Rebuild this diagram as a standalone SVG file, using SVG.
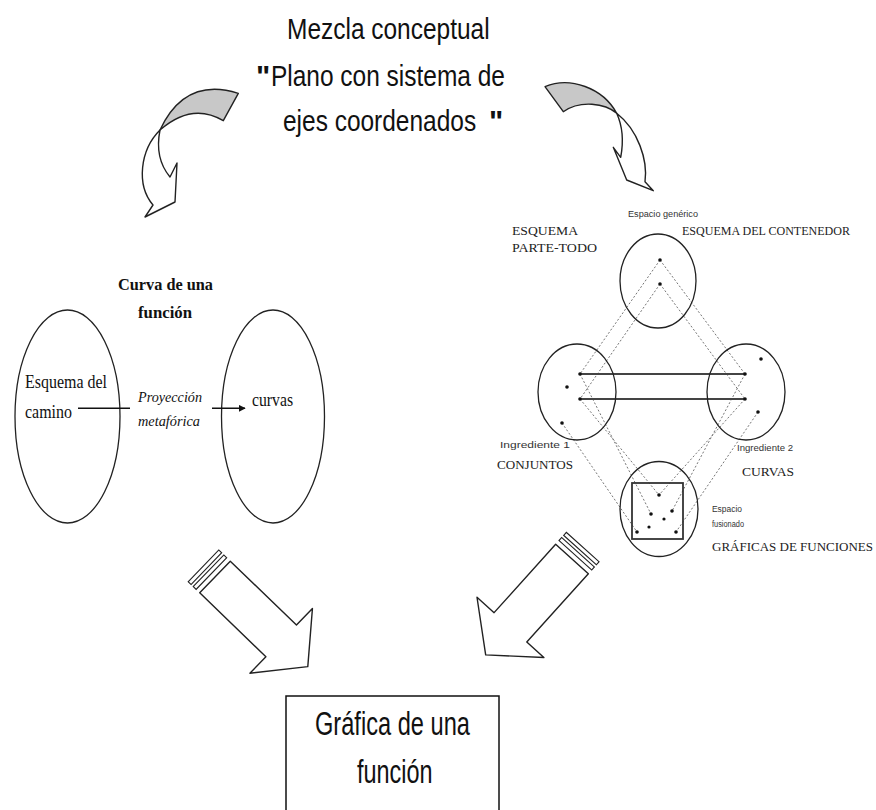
<svg xmlns="http://www.w3.org/2000/svg" width="876" height="810" viewBox="0 0 876 810">
<style>
.title{font-family:"Liberation Sans","DejaVu Sans",sans-serif;font-size:30px;fill:#111}
.q{font-family:"Liberation Sans","DejaVu Sans",sans-serif;font-size:30px;font-weight:bold;fill:#111}
.box{font-family:"Liberation Sans","DejaVu Sans",sans-serif;font-size:34px;fill:#111}
.serif{font-family:"Liberation Serif","DejaVu Serif",serif;fill:#111}
.caps{font-family:"Liberation Serif","DejaVu Serif",serif;font-size:13px;fill:#222}
.small{font-family:"Liberation Sans","DejaVu Sans",sans-serif;font-size:8.5px;fill:#333}
.ol{fill:none;stroke:#222;stroke-width:1.3}
.band{stroke:#222;stroke-width:1.4;stroke-linejoin:round}
.dash{stroke:#777;stroke-width:1;stroke-dasharray:2,2;fill:none}
.dot{fill:#111}
.hl{stroke:#444;stroke-width:2.2}
</style>
<defs>
<marker id="ah" viewBox="0 0 10 10" refX="9" refY="5" markerWidth="7" markerHeight="7" orient="auto" markerUnits="userSpaceOnUse">
<path d="M0,0 L10,5 L0,10 Z" fill="#111"/>
</marker>
<g id="bigArrow">
<polygon points="0,-22 92,-22 92,-45 129,0 92,45 92,22 0,22" fill="#fff" stroke="#222" stroke-width="1.4" stroke-linejoin="round"/>
<rect x="-16" y="-22" width="4" height="44" fill="#fff" stroke="#222" stroke-width="1.1"/>
<rect x="-9" y="-22" width="4" height="44" fill="#fff" stroke="#222" stroke-width="1.1"/>
</g>
</defs>
<rect width="876" height="810" fill="#fff"/>

<g id="title">
<text class="title" transform="translate(287,39) scale(0.816,1)">Mezcla conceptual</text>
<text class="q" x="256" y="86">"</text>
<text class="title" transform="translate(271,86) scale(0.816,1)">Plano con sistema de</text>
<text class="title" transform="translate(283,131) scale(0.816,1)">ejes coordenados</text>
<text class="q" x="489" y="131">"</text>
</g>

<g id="curved-arrow-left">
<path class="band" fill="#fff" d="M160,130 C140,150 136,185 153,205 L145,217 L175,202 L177,163 L170,177 C160,165 156,150 160,130 Z"/>
<path class="band" fill="#c8c8c8" d="M238.3,93.3 Q185,76.5 160,130 Q192,102 223.3,120.7 Z"/>
</g>

<g id="curved-arrow-right">
<path class="band" fill="#fff" d="M616.7,113.3 C638,130 648,160 645,181.7 L653.3,190.7 L626.7,180 L613.3,147.3 L620.7,157.3 C624,140 622,125 616.7,113.3 Z"/>
<path class="band" fill="#c8c8c8" d="M545,86.7 C570,76 603,88 616.7,113.3 C605,103 580,100 563.3,111.7 Z"/>
</g>

<g id="left-diagram">
<text class="serif" x="118" y="290" font-size="17" font-weight="bold" textLength="95" lengthAdjust="spacingAndGlyphs">Curva de una</text>
<text class="serif" x="138" y="318" font-size="17" font-weight="bold" textLength="54" lengthAdjust="spacingAndGlyphs">función</text>
<g id="ellipse-camino">
<ellipse class="ol" cx="67.5" cy="416.5" rx="52.5" ry="106.5"/>
<text class="serif" x="25" y="388" font-size="19" textLength="82" lengthAdjust="spacingAndGlyphs">Esquema del</text>
<text class="serif" x="25" y="418" font-size="19" textLength="47" lengthAdjust="spacingAndGlyphs">camino</text>
</g>
<g id="ellipse-curvas">
<ellipse class="ol" cx="273" cy="416.5" rx="51.5" ry="106.5"/>
<text class="serif" x="252" y="406" font-size="19" textLength="41" lengthAdjust="spacingAndGlyphs">curvas</text>
</g>
<text class="serif" x="138" y="402" font-size="15" font-style="italic" textLength="64" lengthAdjust="spacingAndGlyphs">Proyección</text>
<text class="serif" x="138" y="426" font-size="15" font-style="italic" textLength="62" lengthAdjust="spacingAndGlyphs">metafórica</text>
</g>

<g id="blend-diagram">
<g id="connectors-blend">
<line class="dash" x1="660" y1="260" x2="580" y2="374"/>
<line class="dash" x1="660" y1="284" x2="580" y2="399"/>
<line class="dash" x1="660" y1="260" x2="745" y2="374"/>
<line class="dash" x1="660" y1="284" x2="745" y2="399"/>
<line class="dash" x1="580" y1="374" x2="651" y2="514"/>
<line class="dash" x1="580" y1="399" x2="659" y2="495"/>
<line class="dash" x1="562" y1="423" x2="637" y2="532"/>
<line class="dash" x1="745" y1="374" x2="672" y2="511"/>
<line class="dash" x1="745" y1="399" x2="659" y2="495"/>
<line class="dash" x1="758" y1="412" x2="676" y2="532"/>
<line class="hl" x1="580" y1="374" x2="745" y2="374"/>
<line class="hl" x1="580" y1="399" x2="745" y2="399"/>
</g>
<g id="generic-space">
<ellipse class="ol" cx="658" cy="281" rx="38" ry="47"/>
<circle class="dot" cx="660" cy="260" r="1.8"/>
<circle class="dot" cx="660" cy="284" r="1.8"/>
<text class="small" x="628" y="217" textLength="70" lengthAdjust="spacingAndGlyphs">Espacio genérico</text>
</g>
<g id="input-1">
<ellipse class="ol" cx="577" cy="392" rx="39" ry="48"/>
<circle class="dot" cx="580" cy="374" r="1.8"/>
<circle class="dot" cx="580" cy="399" r="1.8"/>
<circle class="dot" cx="567" cy="387" r="1.8"/>
<circle class="dot" cx="562" cy="423" r="1.8"/>
<text class="small" x="500" y="448" textLength="70" lengthAdjust="spacingAndGlyphs">Ingrediente 1</text>
<text class="caps" x="497" y="469" textLength="76" lengthAdjust="spacingAndGlyphs">CONJUNTOS</text>
</g>
<g id="input-2">
<ellipse class="ol" cx="746" cy="392" rx="39" ry="48"/>
<circle class="dot" cx="745" cy="374" r="1.8"/>
<circle class="dot" cx="745" cy="399" r="1.8"/>
<circle class="dot" cx="761" cy="359" r="1.8"/>
<circle class="dot" cx="758" cy="412" r="1.8"/>
<text class="small" x="737" y="451" textLength="56" lengthAdjust="spacingAndGlyphs">Ingrediente 2</text>
<text class="caps" x="742" y="476" textLength="52" lengthAdjust="spacingAndGlyphs">CURVAS</text>
</g>
<g id="blended-space">
<ellipse class="ol" cx="659" cy="509" rx="39" ry="47.5"/>
<rect x="632" y="483" width="51" height="56" fill="none" stroke="#333" stroke-width="1.8"/>
<circle class="dot" cx="659" cy="495" r="1.8"/>
<circle class="dot" cx="651" cy="514" r="1.8"/>
<circle class="dot" cx="672" cy="511" r="1.8"/>
<circle class="dot" cx="664" cy="519" r="1.6" fill="#555"/>
<circle class="dot" cx="649" cy="527" r="1.6" fill="#555"/>
<circle class="dot" cx="637" cy="532" r="1.8"/>
<circle class="dot" cx="676" cy="532" r="1.8"/>
<text class="small" x="712" y="512" textLength="30" lengthAdjust="spacingAndGlyphs">Espacio</text>
<text class="small" x="712" y="527" textLength="32" lengthAdjust="spacingAndGlyphs">fusionado</text>
</g>
<text class="caps" x="512" y="235" textLength="66" lengthAdjust="spacingAndGlyphs">ESQUEMA</text>
<text class="caps" x="512" y="251.5" textLength="85" lengthAdjust="spacingAndGlyphs">PARTE-TODO</text>
<text class="caps" x="682" y="235" textLength="168" lengthAdjust="spacingAndGlyphs">ESQUEMA DEL CONTENEDOR</text>
<text class="caps" x="712" y="551" textLength="161" lengthAdjust="spacingAndGlyphs">GRÁFICAS DE FUNCIONES</text>
</g>

<g id="connectors">
<line x1="78" y1="408.3" x2="130" y2="408.3" stroke="#111" stroke-width="1.5"/>
<line x1="212" y1="408.3" x2="245" y2="408.3" stroke="#111" stroke-width="1.5" marker-end="url(#ah)"/>
</g>

<g id="big-arrow-left">
<use href="#bigArrow" transform="translate(215,577) rotate(44)"/>
</g>
<g id="big-arrow-right">
<use href="#bigArrow" transform="translate(572,559) rotate(132)"/>
</g>

<g id="result-box">
<rect x="286" y="696" width="213" height="120" fill="#fff" stroke="#111" stroke-width="1.5"/>
<text class="box" transform="translate(315,735) scale(0.695,1)">Gráfica de una</text>
<text class="box" transform="translate(357,783) scale(0.69,1)">función</text>
</g>
</svg>
